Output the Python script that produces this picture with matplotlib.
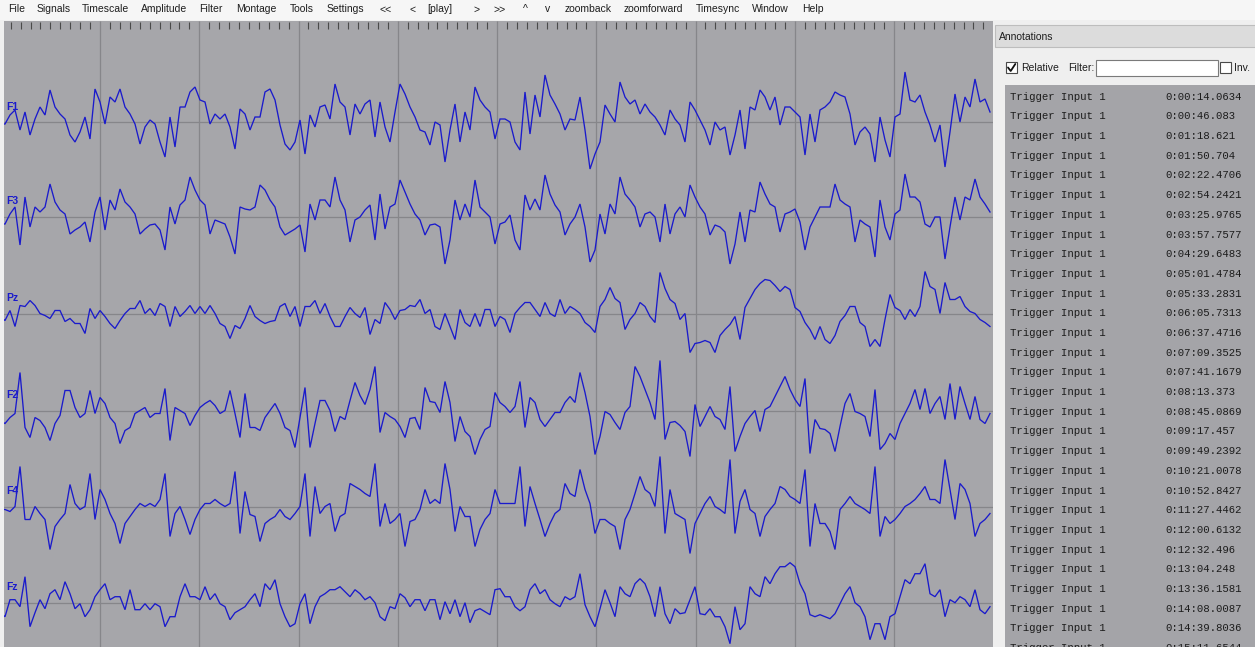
import numpy as np
import matplotlib
matplotlib.use("Agg")
import matplotlib.pyplot as plt
from matplotlib.patches import Rectangle

# ---------------------------------------------------------------- data
channels = ["F1", "F3", "Pz", "F2", "F4", "Fz"]
fs = 19.85            # display sample rate (Hz)
page_start = -0.008   # time of first sample (s)

f1_uv = [
    -2, -2, 7, 12, -8, 10, -13, 3, 15, 7,
    32, 15, 8, 3, -13, -20, -10, 5, -17, 33,
    20, -2, 25, 20, 33, 15, 8, -2, -22, -5,
    2, -2, -20, -35, 5, -25, 15, 15, 30, 35,
    22, 20, -2, 8, 3, 8, -5, -27, 13, 8,
    -8, 5, 5, 30, 33, 22, -3, -22, -28, -20,
    2, -32, 7, -5, 15, 17, 3, 38, 20, 15,
    -13, 18, 8, 18, 22, -15, 20, -5, -20, 10,
    38, 28, 15, 5, -8, -10, -23, 0, -3, -40,
    -8, 18, -20, 10, -8, 35, 22, 15, 10, -17,
    3, 3, 0, -20, -28, 30, -12, 27, 5, 47,
    27, 18, 8, -8, 3, 2, 25, -8, -47, -32,
    -20, 17, 8, 0, 40, 25, 18, 22, 8, 18,
    10, 5, -3, -13, 12, 3, -3, -20, 20, 12,
    2, -8, -23, 0, -8, -5, -33, -13, 12, -27,
    15, 12, 32, 25, 12, 25, -3, 15, 15, 10,
    5, -33, 8, -20, 12, 15, 20, 30, 27, 25,
    8, -23, -10, -5, -12, -40, 5, -18, -35, 5,
    8, 50, 22, 20, 27, 10, -3, -20, -3, -45,
    -10, 28, 0, 25, 15, 43, 20, 23, 10,
]
f3_uv = [
    -7, -7, 3, 10, -28, 20, -10, 10, 5, 10,
    33, 15, 7, 3, -17, -13, -10, -5, -25, 5,
    20, -13, 17, 7, 28, 15, 10, 3, -17, -12,
    -8, -7, -13, -33, 10, -7, 12, 17, 40, 27,
    17, 12, -17, -3, -5, -7, -20, -37, 10, 8,
    7, 10, 32, 27, 17, 10, -10, -18, -15, -12,
    -8, -35, 13, -3, 17, 17, 10, 40, 17, 7,
    -25, -3, 0, 7, 12, -23, 23, -12, 10, 13,
    37, 25, 13, 3, -3, -18, -8, -7, -10, -47,
    -23, 17, -3, 13, 0, 37, 10, 5, 0, -27,
    -7, -5, 2, -23, -33, 22, 7, 18, 7, 42,
    23, 12, 5, -18, -7, 0, 13, -10, -45, -33,
    3, -17, 13, 3, 40, 23, 17, 10, -10, 3,
    5, 0, -25, 13, -17, 3, 10, 0, 32, 20,
    10, 3, -18, -8, -10, -15, -47, -27, 5, -25,
    7, 5, 35, 23, 13, 10, -15, 3, 5, 8,
    -5, -33, -10, 0, 10, 10, 10, 33, 17, 13,
    10, -25, -3, -7, -10, -40, 17, -10, -23, 3,
    7, 43, 20, 20, 15, -7, -10, 0, 0, -42,
    -10, 20, -3, 20, 17, 38, 20, 13, 5,
]
pz_uv = [
    -3, -7, 3, -13, 8, 7, 13, 8, 0, -2,
    -5, 3, 3, -8, -5, -10, -10, -20, 5, -5,
    3, -3, -10, -15, -7, 0, 5, 5, 13, 0,
    5, -2, 10, 7, -13, 7, -3, 2, 8, 0,
    7, 0, 8, 0, -10, -13, -25, -12, -15, -5,
    8, -3, -7, -10, -8, -7, 7, 10, -3, 7,
    -13, 7, 7, 13, 0, 10, -3, -13, -13, -3,
    6, 0, -4, 6, -21, -6, -10, 11, 4, -6,
    3, 4, 8, 7, 14, 0, 4, -13, -16, 0,
    -13, -26, 4, -9, -13, 0, -13, 4, 4, -13,
    -3, -6, -19, 0, 6, 11, 11, 4, -3, 11,
    0, -3, 14, 0, 7, 4, 0, -9, -13, -19,
    7, 14, 26, 15, 11, -16, -6, 0, 11, 7,
    -3, -9, 41, 25, 14, 10, -6, 0, -39, -30,
    -29, -27, -29, -39, -22, -16, -11, -3, -26, 6,
    15, 24, 30, 34, 33, 28, 22, 27, 24, 6,
    2, -9, -16, -26, -13, -26, -30, -22, -8, -2,
    7, 7, -9, -13, -33, -26, -33, -6, 19, 6,
    3, -6, 4, -3, 7, 42, 27, 24, 0, 31,
    14, 14, 17, 7, 2, 0, -6, -9, -13,
]
f2_uv = [
    -10, -13, -7, -3, 38, -17, -27, -7, -10, -17,
    -30, -13, -5, 20, 20, 3, -7, -3, 20, -3,
    13, 7, -7, -13, -33, -20, -17, -3, 0, 3,
    -7, -3, -3, 22, -30, 3, 0, -3, -15, -5,
    3, 7, 10, 5, -3, 0, 20, -3, -27, 17,
    -17, -17, -20, -7, 0, 7, -3, -17, -20, -37,
    -7, 23, -37, -13, 10, 10, 0, -21, -6, -9,
    10, 28, 15, 6, 21, 44, -22, -2, -6, -9,
    -16, -27, -8, -7, -19, 23, 9, 8, -2, 29,
    8, -31, -6, -21, -26, -44, -29, -19, -16, 18,
    8, 4, -2, 4, 29, -17, 13, 8, -9, -16,
    -9, -2, -2, 8, 14, 8, 38, 18, -6, -44,
    -26, -1, -4, -12, -19, -2, 4, 44, 34, 21,
    8, -9, 50, -29, -12, -11, -15, -21, -46, 6,
    -16, -6, 4, -6, -9, -19, 24, -41, -26, -13,
    -6, 0, -21, 1, 4, 14, 24, 34, 21, 11,
    4, 32, -43, -9, -18, -19, -23, -41, -16, 7,
    17, -1, -3, -6, -26, 21, -39, -33, -23, -29,
    -13, -3, 7, 21, 1, 22, -3, 7, 14, -9,
    27, -9, 24, 7, -9, 14, -9, -13, -3,
]
f4_uv = [
    -3, -3, -5, 0, 40, -13, -13, 0, -7, -13,
    -43, -20, -13, -7, 22, 3, -3, 0, 33, -13,
    17, 7, -7, -17, -37, -17, -10, -3, 3, 0,
    3, 0, 7, 33, -30, -7, 0, -13, -28, -13,
    -3, 3, 3, 7, 3, 0, 3, 35, -27, 15,
    -8, -10, -35, -17, -13, -10, -3, -10, -13, -7,
    0, 33, -30, 20, -7, 0, 3, -25, -10, -7,
    23, 20, 17, 13, 10, 43, -20, 3, -17, -13,
    -7, -40, -15, -13, -3, 17, 3, 7, 3, 43,
    17, -25, 0, -10, -10, -40, -23, -13, -7, 17,
    3, 3, 3, 3, 40, -20, 20, 3, -13, -30,
    -17, -7, -3, 23, 13, 10, 37, 17, 3, -27,
    -13, -13, -17, -20, -43, -13, -3, 13, 30, 17,
    13, 0, 50, -27, 17, -7, -10, -13, -47, -17,
    -7, 3, 10, 0, -3, -7, 47, -27, 5, 17,
    -3, -7, -30, -10, -3, 3, 20, 17, 10, 7,
    3, 37, -40, 3, -17, -17, -25, -43, -3, 3,
    10, 3, 0, -3, -7, 40, -30, -10, -17, -13,
    -7, 0, 3, 7, 13, 20, 7, 7, 3, 47,
    17, -13, 23, 17, 3, -30, -17, -13, -7,
]
fz_uv = [
    -10, -14, 3, 3, -4, 26, -24, -10, 3, -6,
    9, 13, 3, 21, 9, -6, -1, -14, -7, 6,
    13, 19, 3, 6, 6, -7, 13, -7, -7, -1,
    -7, -1, -4, -24, -14, -14, 6, 19, 6, 6,
    3, 16, 3, 9, -1, -4, -17, -10, -7, -4,
    3, 9, -4, 19, 13, 23, -1, -14, -24, -21,
    -1, 9, -21, -4, 6, 9, 13, 13, 16, 11,
    6, 13, 9, 3, 6, 0, -14, -18, -4, -6,
    9, 5, -4, 3, 3, -8, 3, 3, -17, 1,
    -11, 3, -14, 0, -20, -8, -6, -9, -12, 13,
    14, 6, 6, -4, -8, -4, 13, 19, 9, 13,
    3, -1, -4, 6, 3, 6, 29, -2, -14, -24,
    -6, 13, 0, -14, 16, 9, 6, 19, 24, 19,
    6, -14, 16, -11, -21, -6, -11, -10, 3, 16,
    -11, -12, -6, -14, -14, -24, -41, -4, -27, -21,
    16, 9, 6, 26, 19, 29, 36, 36, 40, 36,
    19, 9, -12, -14, -12, -14, -16, -11, -1, 9,
    16, 0, -4, -14, -37, -21, -21, -37, -14, -11,
    6, 23, 19, 29, 29, 39, 9, 6, 13, -14,
    3, 0, 6, 3, -4, 13, -7, -11, -4,
]
signals = [f1_uv, f3_uv, pz_uv, f2_uv, f4_uv, fz_uv]

menu_items = ["File", "Signals", "Timescale", "Amplitude", "Filter", "Montage",
              "Tools", "Settings", "<<", "<", "[play]", ">", ">>", "^", "v",
              "zoomback", "zoomforward", "Timesync", "Window", "Help"]

annotation_label = "Trigger Input 1"
annotation_onsets = [
    "0:00:14.0634", "0:00:46.083", "0:01:18.621", "0:01:50.704",
    "0:02:22.4706", "0:02:54.2421", "0:03:25.9765", "0:03:57.7577",
    "0:04:29.6483", "0:05:01.4784", "0:05:33.2831", "0:06:05.7313",
    "0:06:37.4716", "0:07:09.3525", "0:07:41.1679", "0:08:13.373",
    "0:08:45.0869", "0:09:17.457", "0:09:49.2392", "0:10:21.0078",
    "0:10:52.8427", "0:11:27.4462", "0:12:00.6132", "0:12:32.496",
    "0:13:04.248", "0:13:36.1581", "0:14:08.0087", "0:14:39.8036",
    "0:15:11.6544",
]

# ---------------------------------------------------------------- layout
W, H = 1255, 647
BG_SIG = "#a6a6aa"
GRID = "#86868a"
TRACE = "#1a1acc"
UI_FONT = "Liberation Sans"

fig = plt.figure(figsize=(W / 100, H / 100), dpi=100)
fig.patch.set_facecolor("#efefef")

ui = fig.add_axes([0, 0, 1, 1])
ui.set_xlim(0, W)
ui.set_ylim(H, 0)
ui.axis("off")

# menu bar
ui.add_patch(Rectangle((0, 0), W, 20, facecolor="#f6f6f6", edgecolor="none"))
menu_x = [8, 37, 82, 141, 199, 236, 290, 327, 379, 410, 427, 473, 493, 523,
          545, 565, 624, 696, 752, 802]
for label, x in zip(menu_items, menu_x):
    ui.text(x, 9.5, label, fontsize=7.5, family=UI_FONT, color="#1e1e1e",
            ha="left", va="center")

# annotation dock
ui.add_patch(Rectangle((995, 25), 262, 22, facecolor="#dcdcdc",
                       edgecolor="#bdbdbd", lw=0.8))
ui.text(999, 36.5, "Annotations", fontsize=7.5, family=UI_FONT,
        color="#1e1e1e", ha="left", va="center")

# "Relative" check box (checked)
ui.add_patch(Rectangle((1006, 62), 11, 11, facecolor="white",
                       edgecolor="#4a4a4a", lw=0.8))
ui.plot([1008, 1010.7, 1015.3], [67.5, 71, 64], color="#111111", lw=1.3,
        solid_capstyle="round")
ui.text(1021, 68, "Relative", fontsize=7.5, family=UI_FONT, color="#1e1e1e",
        ha="left", va="center")
ui.text(1068, 68, "Filter:", fontsize=7.5, family=UI_FONT, color="#1e1e1e",
        ha="left", va="center")
ui.add_patch(Rectangle((1096, 60), 122, 16, facecolor="white",
                       edgecolor="#7a7a7a", lw=0.8))
ui.add_patch(Rectangle((1220, 62), 11, 11, facecolor="white",
                       edgecolor="#4a4a4a", lw=0.8))
ui.text(1234, 68, "Inv.", fontsize=7.5, family=UI_FONT, color="#1e1e1e",
        ha="left", va="center")

# annotation list (the last row runs past the bottom edge of the window)
ui.add_patch(Rectangle((1005, 85), 250, H - 85, facecolor="#a4a4a8",
                       edgecolor="none"))
row_y0, row_step = 96.7, 19.69
for k, onset in enumerate(annotation_onsets):
    y = row_y0 + k * row_step
    ui.text(1010, y, annotation_label, fontsize=7.7, family="Liberation Mono",
            color="#1c1c1c", ha="left", va="center", clip_on=True)
    ui.text(1165, y, onset, fontsize=7.7, family="Liberation Mono",
            color="#1c1c1c", ha="left", va="center", clip_on=True)

# ---------------------------------------------------------------- signal view
px_per_s = 99.25
sig_left, sig_right, sig_top = 4, 993, 21
ax = fig.add_axes([sig_left / W, 0, (sig_right - sig_left) / W,
                   (H - sig_top) / H])
ax.set_facecolor(BG_SIG)
t_lo = page_start + sig_left / px_per_s
t_hi = page_start + sig_right / px_per_s
ax.set_xlim(t_lo, t_hi)
ax.set_ylim(H, sig_top)
for s in ax.spines.values():
    s.set_visible(False)
ax.set_xticks([])
ax.set_yticks([])

# time ruler: 0.1 s ticks along the top, full-height lines every second
ticks = np.round(np.arange(0, 100) * 0.1, 1)
ticks = ticks[(ticks > t_lo) & (ticks < t_hi)]
minor = ticks[np.abs(ticks - np.round(ticks)) > 1e-6]
major = ticks[np.abs(ticks - np.round(ticks)) <= 1e-6]
ax.vlines(minor, sig_top + 1, sig_top + 7.5, color="#4a4a4a", lw=0.8)
ax.vlines(major, sig_top, H, color=GRID, lw=0.9)

baselines = [122, 217, 313.5, 410.5, 506.5, 602.7]
gain = 1.0  # px per uV
for name, values, y0 in zip(channels, signals, baselines):
    v = np.asarray(values, dtype=float)
    t = page_start + np.arange(v.size) / fs
    ax.axhline(y0, color=GRID, lw=0.9, zorder=1)
    ax.plot(t, y0 - gain * v, color=TRACE, lw=0.95, zorder=3,
            solid_joinstyle="miter")
    ax.text(t_lo + 2 / px_per_s, y0 - 15.5, name, color=TRACE,
            fontsize=7.5, family=UI_FONT, fontweight="bold",
            ha="left", va="center", zorder=4)

fig.savefig("out.png", dpi=100, facecolor=fig.get_facecolor())
